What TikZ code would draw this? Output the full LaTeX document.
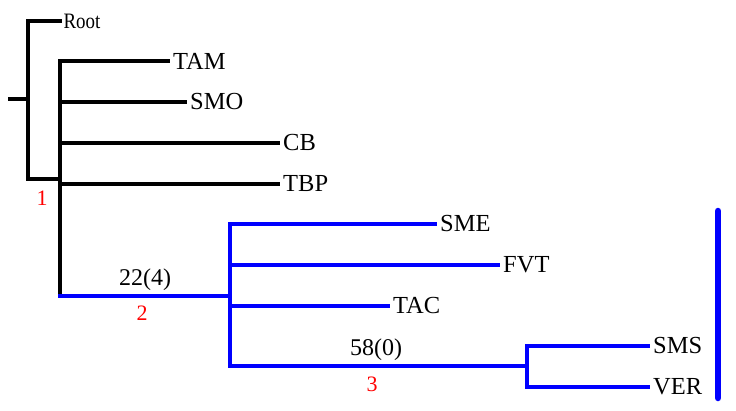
\documentclass[tikz,border=0pt]{standalone}
\usepackage{fontspec}
\setmainfont{Liberation Serif}
\definecolor{treeblue}{RGB}{0,0,255}
\definecolor{treered}{RGB}{255,0,0}
\tikzset{
  branch/.style={line width=3.3pt, line cap=rect, line join=miter},
  bluebranch/.style={branch, draw=treeblue},
  leaf/.style={anchor=west, inner xsep=5pt, inner ysep=0pt, font=\fontsize{24.5}{28}\selectfont},
  support/.style={inner sep=0pt, font=\fontsize{24}{28}\selectfont},
  clade/.style={inner sep=0pt, text=treered, font=\fontsize{22}{26}\selectfont},
}
\begin{document}
\begin{tikzpicture}[x=1pt,y=-1pt]
\useasboundingbox (0,0) rectangle (736,410);
% internal nodes
\coordinate (stub) at (10,99);
\coordinate (a) at (28,99);
\coordinate (b) at (60,179);
\coordinate (c) at (230,296);
\coordinate (d) at (527,366);
% leaves
\node[anchor=west, inner xsep=4pt, inner ysep=0pt, xscale=0.86, font=\fontsize{22}{26}\selectfont] (root) at (60,21) {Root};
\node[leaf] (tam) at (168,61) {TAM};
\node[leaf] (smo) at (185,102) {SMO};
\node[leaf] (cb) at (278,143) {CB};
\node[leaf] (tbp) at (278,184) {TBP};
\node[leaf] (sme) at (435,224) {SME};
\node[leaf] (fvt) at (498,265) {FVT};
\node[leaf] (tac) at (388,306) {TAC};
\node[leaf] (sms) at (648,346) {SMS};
\node[leaf] (ver) at (648,387) {VER};
% black part
\draw[branch] (stub) -- (a);
\draw[branch] (a) |- (root.west);
\draw[branch] (a) |- (b);
\draw[branch] (b) |- (tam.west);
\draw[branch] (b) |- (smo.west);
\draw[branch] (b) |- (cb.west);
\draw[branch] (b) |- (tbp.west);
\draw[branch] (b) -- (b |- c);
% blue part
\draw[bluebranch] (b |- c) -- (c);
\draw[bluebranch] (c) |- (sme.west);
\draw[bluebranch] (c) |- (fvt.west);
\draw[bluebranch] (c) |- (tac.west);
\draw[bluebranch] (c) |- (c |- d) -- (d);
\draw[bluebranch] (d) |- (sms.west);
\draw[bluebranch] (d) |- (ver.west);
% labels
\node[clade] (l1) at (42,198) {1};
\node[support] (s2) at (145,280) {22(4)};
\node[clade] (l2) at (142,313) {2};
\node[support] (s3) at (376,350) {58(0)};
\node[clade] (l3) at (372,384) {3};
% bar
\coordinate (bartop) at (718,211);
\coordinate (barbot) at (718,398);
\draw[treeblue, line width=6.5pt, line cap=round] (bartop) -- (barbot);
\end{tikzpicture}
\end{document}
